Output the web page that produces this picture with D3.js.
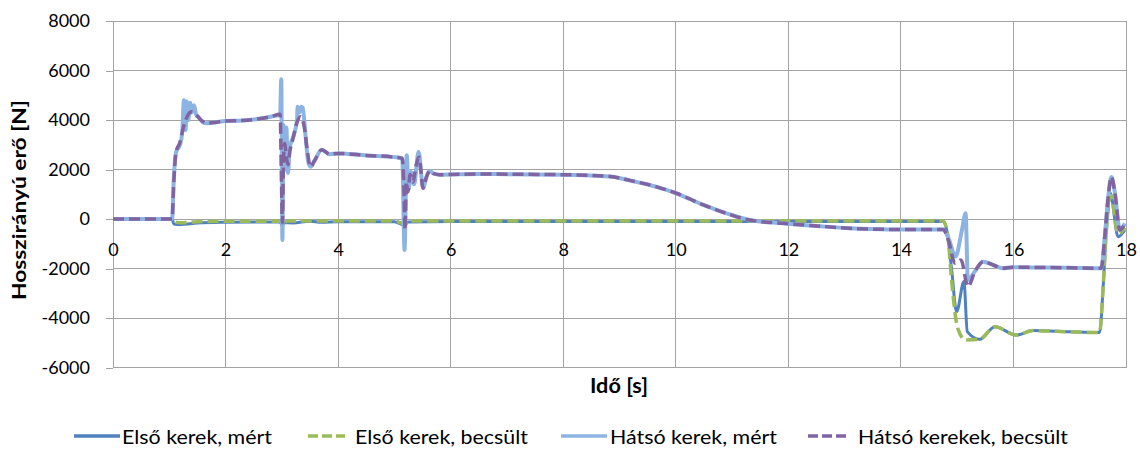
<!DOCTYPE html>
<html>
<head>
<meta charset="utf-8">
<script src="https://cdn.jsdelivr.net/npm/d3@7"></script>
<style>
  html, body { margin: 0; padding: 0; background: #fff; }
  svg { display: block; font-family: Lato, "Open Sans", sans-serif; }
  .tick text { fill: #000; }
</style>
</head>
<body>
<svg id="chart" width="1140" height="450"></svg>
<script>
// Time axis [s] and force axis [N]
const xTicks = [0, 2, 4, 6, 8, 10, 12, 14, 16, 18];
const yTicks = [-6000, -4000, -2000, 0, 2000, 4000, 6000, 8000];

const seriesNames = ["Első kerek, mért", "Első kerek, becsült", "Hátsó kerek, mért", "Hátsó kerekek, becsült"];

// Front wheel, measured: [t, F]
const elsoMert = [
  [0,0],[1.05,0],[1.08,-200],[1.2,-220],[1.5,-160],[2.0,-130],[2.5,-120],[2.97,-120],[3.0,-250],
  [3.05,-150],[3.2,-160],[3.5,-90],[3.7,-130],[4.0,-110],[5.0,-110],[5.18,-250],[5.25,-120],
  [6,-100],[8,-100],[10,-100],[12,-100],[14.75,-100],[14.82,-500],[14.9,-2000],[14.99,-3745],
  [15.12,-2530],[15.18,-4550],[15.4,-4860],[15.67,-4350],[16.05,-4690],[16.35,-4510],
  [17.0,-4560],[17.53,-4590],[17.6,-2500],[17.65,-500],[17.72,1050],[17.86,-715],[17.98,-445]
];

// Front wheel, estimated
const elsoBecsult = [
  [0,0],[1.05,0],[1.08,-100],[1.2,-150],[1.5,-110],[2.0,-90],[3.0,-90],[3.02,-200],[3.1,-80],
  [5.0,-80],[5.18,-200],[5.25,-80],[8,-80],[12,-80],[14.75,-80],[14.83,-600],[14.9,-2460],
  [15.01,-4420],[15.15,-4890],[15.4,-4860],[15.67,-4350],[16.05,-4690],[16.35,-4510],
  [17.0,-4560],[17.53,-4590],[17.6,-2500],[17.65,-500],[17.73,950],[17.86,-600],[17.98,-350]
];

// Rear wheel, measured
const hatsoMert = [
  [0,0],[1.05,0],[1.08,1600],[1.12,2700],[1.19,3000],[1.23,3500],[1.26,4800],[1.29,3600],
  [1.31,4750],[1.34,4000],[1.37,4700],[1.40,4300],[1.44,4600],[1.48,4200],[1.53,4100],
  [1.6,3900],[1.66,3870],[1.8,3900],[2.0,3960],[2.3,3980],[2.6,4050],[2.8,4130],[2.97,4230],
  [2.99,5650],[3.01,-850],[3.03,3800],[3.06,2000],[3.08,3700],[3.11,1860],[3.14,2900],
  [3.2,3300],[3.27,4000],[3.28,4540],[3.31,4300],[3.34,4540],[3.37,4500],[3.42,3400],
  [3.47,2300],[3.51,2110],[3.58,2350],[3.71,2800],[3.85,2620],[4.0,2650],[4.5,2570],
  [5.0,2500],[5.14,2450],[5.18,-1250],[5.22,2580],[5.25,1200],[5.3,1900],[5.35,1400],
  [5.43,2720],[5.51,1240],[5.57,1700],[5.63,1950],[5.7,1830],[5.8,1790],[6.5,1820],
  [7.0,1810],[8.0,1790],[8.83,1720],[9.2,1550],[9.66,1300],[10.01,1040],[10.49,570],
  [10.9,230],[11.31,-40],[11.9,-175],[12.5,-280],[13.09,-375],[13.8,-420],[14.75,-420],
  [14.85,-800],[14.97,-1520],[15.08,-500],[15.15,230],[15.19,-2460],[15.32,-2100],
  [15.46,-1725],[15.64,-1860],[15.81,-1990],[15.99,-1950],[16.5,-1960],[17.0,-1970],
  [17.56,-1990],[17.62,-800],[17.68,800],[17.74,1700],[17.8,1100],[17.89,-445],[17.98,-175]
];

// Rear wheels, estimated
const hatsoBecsult = [
  [0,0],[1.05,0],[1.08,1500],[1.12,2700],[1.19,3100],[1.25,3700],[1.32,4150],[1.40,4330],
  [1.48,4200],[1.57,3980],[1.66,3880],[1.8,3900],[2.0,3960],[2.3,3980],[2.6,4050],[2.8,4130],
  [2.97,4230],[2.99,2000],[3.01,-150],[3.03,2400],[3.05,3050],[3.08,2500],[3.11,2200],
  [3.14,2700],[3.2,3270],[3.27,3900],[3.33,4130],[3.4,3700],[3.45,2800],[3.51,2110],
  [3.58,2350],[3.71,2800],[3.85,2620],[4.0,2650],[4.5,2570],[5.0,2500],[5.14,2450],
  [5.17,1200],[5.19,-440],[5.21,1500],[5.24,1100],[5.28,1800],[5.33,1500],[5.38,2100],
  [5.44,2500],[5.51,1250],[5.57,1700],[5.63,1950],[5.7,1830],[5.8,1790],[6.5,1820],
  [7.0,1810],[8.0,1790],[8.83,1720],[9.2,1550],[9.66,1300],[10.01,1040],[10.49,570],
  [10.9,230],[11.31,-40],[11.9,-175],[12.5,-280],[13.09,-375],[13.8,-420],[14.75,-420],
  [14.85,-900],[14.96,-1790],[15.07,-1660],[15.19,-2735],[15.32,-2100],[15.46,-1725],
  [15.64,-1860],[15.81,-1990],[15.99,-1950],[16.5,-1960],[17.0,-1970],[17.56,-1990],
  [17.62,-800],[17.68,800],[17.74,1700],[17.8,1100],[17.89,-445],[17.98,-175]
];

const svg = d3.select("#chart");
const plot = { left: 113, right: 1126, top: 21, bottom: 367.5 };
const gridColor = "#a3a3a3";

const x = d3.scaleLinear().domain([0, 18]).range([plot.left, plot.right]);
const y = d3.scaleLinear().domain([-6000, 8000]).range([plot.bottom, plot.top]);

// Gridlines
svg.append("g").selectAll("line.h").data(yTicks).join("line")
  .attr("x1", plot.left).attr("x2", plot.right)
  .attr("y1", d => y(d)).attr("y2", d => y(d))
  .attr("stroke", gridColor).attr("stroke-width", 1).attr("shape-rendering", "crispEdges");
svg.append("g").selectAll("line.v").data(xTicks).join("line")
  .attr("x1", d => x(d)).attr("x2", d => x(d))
  .attr("y1", plot.top).attr("y2", plot.bottom)
  .attr("stroke", gridColor).attr("stroke-width", 1).attr("shape-rendering", "crispEdges");

// Axes
const yAxis = svg.append("g")
  .attr("transform", `translate(${plot.left},0)`)
  .call(d3.axisLeft(y).tickValues(yTicks).tickFormat(d => String(d))
    .tickSize(7).tickSizeOuter(0).tickPadding(16));
yAxis.selectAll("line, path").attr("stroke", gridColor).attr("shape-rendering", "crispEdges");
yAxis.selectAll("text").attr("font-size", 18).attr("font-family", "Lato, sans-serif");

const xAxis = svg.append("g")
  .attr("transform", `translate(0,${y(0)})`)
  .call(d3.axisBottom(x).tickValues(xTicks).tickFormat(d => String(d))
    .tickSize(0).tickSizeOuter(0).tickPadding(24));
xAxis.select(".domain").remove();
xAxis.selectAll("text").attr("font-size", 18).attr("font-family", "Lato, sans-serif");

// Series lines
const line = d3.line().x(d => x(d[0])).y(d => y(d[1])).curve(d3.curveMonotoneX);
const series = [
  { data: elsoMert, color: "#4f81bd", width: 3, dash: null },
  { data: elsoBecsult, color: "#9bbb59", width: 3.5, dash: "11,5" },
  { data: hatsoMert, color: "#8db3e2", width: 4, dash: null },
  { data: hatsoBecsult, color: "#8064a2", width: 3.5, dash: "11,5" }
];
svg.append("g").selectAll("path").data(series).join("path")
  .attr("d", d => line(d.data))
  .attr("fill", "none")
  .attr("stroke", d => d.color)
  .attr("stroke-width", d => d.width)
  .attr("stroke-dasharray", d => d.dash)
  .attr("stroke-linejoin", "round");

// Axis titles
svg.append("text")
  .attr("transform", "translate(26,200) rotate(-90)")
  .attr("text-anchor", "middle")
  .attr("font-size", 19).attr("font-weight", "bold")
  .attr("textLength", 200).attr("lengthAdjust", "spacingAndGlyphs")
  .text("Hosszirányú erő [N]");
svg.append("text")
  .attr("x", 619).attr("y", 393)
  .attr("text-anchor", "middle")
  .attr("font-size", 20).attr("font-weight", "bold")
  .attr("textLength", 58).attr("lengthAdjust", "spacingAndGlyphs")
  .text("Idő [s]");

// Legend
const legendItems = [
  { x1: 74, x2: 120, tx: 122, tw: 150 },
  { x1: 308, x2: 345, tx: 355, tw: 173 },
  { x1: 561, x2: 607, tx: 610, tw: 167 },
  { x1: 808, x2: 848, tx: 858, tw: 210 }
];
const legend = svg.append("g");
legendItems.forEach((it, i) => {
  const s = series[i];
  legend.append("line")
    .attr("x1", it.x1).attr("x2", it.x2).attr("y1", 436).attr("y2", 436)
    .attr("stroke", s.color).attr("stroke-width", 3.5)
    .attr("stroke-dasharray", s.dash ? "10,4" : null);
  legend.append("text")
    .attr("x", it.tx).attr("y", 444)
    .attr("font-size", 20)
    .attr("textLength", it.tw).attr("lengthAdjust", "spacingAndGlyphs")
    .text(seriesNames[i]);
});
</script>
</body>
</html>
